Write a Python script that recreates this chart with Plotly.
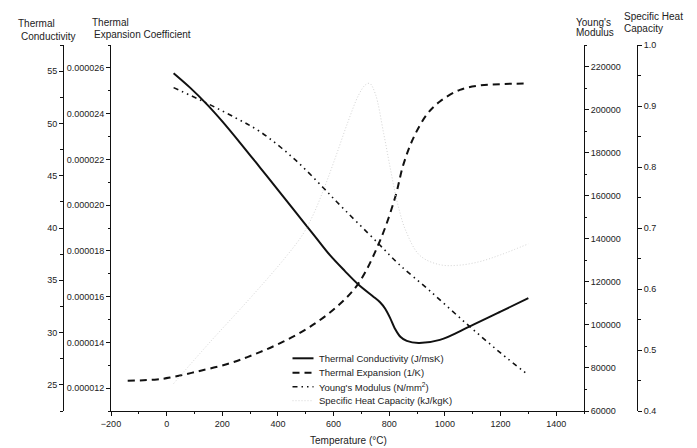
import plotly.graph_objects as go

# ---------------- data ----------------
cond_temp = [25, 85, 144, 200, 264, 335, 407, 470, 533, 587, 640, 689, 740, 767, 785, 803, 820, 840, 863, 905,
             982, 1090, 1200, 1300]
cond_vals = [54.8, 53.4, 51.85, 50.2, 48.15, 45.8, 43.4, 41.3, 39.2, 37.4, 35.9, 34.6, 33.5, 32.9, 32.3, 31.4, 30.4,
             29.6, 29.2, 29.0, 29.3, 30.6, 32.0, 33.3]

exp_temp = [-140, -35, 12, 108, 228, 324, 419, 515, 611, 689, 767, 821, 851, 887, 935, 982, 1054, 1126, 1200, 1300]
exp_vals = [12.32, 12.38, 12.46, 12.72, 13.09, 13.52, 14.03, 14.68, 15.55, 16.57, 18.45, 20.33, 21.78,
            22.94, 23.96, 24.53, 25.04, 25.23, 25.29, 25.32]  # x 1e-6 1/K
exp_vals = [v * 1e-6 for v in exp_vals]

young_temp = [25, 144, 250, 335, 455, 563, 611, 761, 832, 946, 1078, 1200, 1300]
young_vals = [210200, 203000, 196000, 189800, 177500, 163700, 157200, 137800, 128500, 115800, 100500, 87000, 76700]

cp_temp = [25, 150, 300, 420, 490, 530, 570, 610, 650, 690, 715, 730, 750, 780, 805, 830, 860, 910, 980, 1050,
           1126, 1200, 1300]
cp_vals = [0.445, 0.51, 0.585, 0.648, 0.69, 0.725, 0.77, 0.82, 0.872, 0.918, 0.935, 0.937, 0.92, 0.855, 0.795,
           0.74, 0.695, 0.655, 0.64, 0.639, 0.645, 0.656, 0.674]

x_ticks = [-200, 0, 200, 400, 600, 800, 1000, 1200, 1400]

legend_names = ["Thermal Conductivity (J/msK)", "Thermal Expansion (1/K)",
                "Young's Modulus (N/mm<sup>2</sup>)", "Specific Heat Capacity (kJ/kgK)"]

# ---------------- layout geometry ----------------
OFF = 8                      # page body margin in the browser
W, H = 697 - OFF, 448 - OFF
L = 63 - OFF                 # thermal conductivity axis at x=63 in the window
T = 45 - OFF                 # plot top at y=45
B = H - (411 - OFF)          # plot bottom at y=411
R = W - (637 - OFF)          # specific heat axis at x=637
PW = W - L - R
PH = H - T - B


def px(x):
    return (x - OFF - L) / PW


def py(y):
    return (H - B - (y - OFF)) / PH


FONT = "Arial, 'Liberation Sans', Helvetica, sans-serif"
INK = "#111111"
CP_COLOR = "#d4d4d4"

styles = [
    dict(color=INK, width=2, dash="solid"),
    dict(color=INK, width=2, dash="7px,5px"),
    dict(color=INK, width=1.6, dash="5px,4px,1.5px,4px,1.5px,4px"),
    dict(color=CP_COLOR, width=1, dash="1px,2px"),
]

fig = go.Figure()
fig.add_trace(go.Scatter(x=cond_temp, y=cond_vals, mode="lines", line=dict(**styles[0], shape="spline", smoothing=1),
                         name=legend_names[0], yaxis="y", showlegend=False))
fig.add_trace(go.Scatter(x=exp_temp, y=exp_vals, mode="lines", line=dict(**styles[1], shape="spline", smoothing=1),
                         name=legend_names[1], yaxis="y2", showlegend=False))
fig.add_trace(go.Scatter(x=young_temp, y=young_vals, mode="lines", line=dict(**styles[2], shape="spline", smoothing=1),
                         name=legend_names[2], yaxis="y3", showlegend=False))
fig.add_trace(go.Scatter(x=cp_temp, y=cp_vals, mode="lines", line=dict(**styles[3], shape="spline", smoothing=1),
                         name=legend_names[3], yaxis="y4", showlegend=False))

common = dict(showline=True, linecolor=INK, linewidth=1, ticks="outside", ticklen=4, tickwidth=1,
              tickcolor=INK, showgrid=False, zeroline=False,
              tickfont=dict(family=FONT, size=9, color="#222"))

fig.update_layout(
    width=W, height=H,
    margin=dict(l=L, r=R, t=T, b=B, autoexpand=False),
    paper_bgcolor="white", plot_bgcolor="white",
    font=dict(family=FONT, size=10, color="#222"),
    xaxis=dict(domain=[px(111), px(584)], range=[-200, 1500], tickvals=x_ticks,
               minor=dict(dtick=100, tick0=-200, ticks="outside", ticklen=2, tickcolor=INK),
               **common),
    yaxis=dict(anchor="free", position=0, side="left", range=[22.5, 57.5], dtick=5, tick0=25,
               minor=dict(dtick=2.5, tick0=22.5, ticks="outside", ticklen=3, tickcolor=INK),
               **common),
    yaxis2=dict(overlaying="y", anchor="x", side="left", range=[11e-6, 27e-6], dtick=2e-6, tick0=12e-6,
                tickformat=".6f",
                minor=dict(dtick=1e-6, tick0=11e-6, ticks="outside", ticklen=2, tickcolor=INK),
                **common),
    yaxis3=dict(overlaying="y", anchor="x", side="right", range=[60000, 230000], dtick=20000, tick0=60000,
                tickformat="d",
                minor=dict(dtick=10000, tick0=60000, ticks="outside", ticklen=2, tickcolor=INK),
                **common),
    yaxis4=dict(overlaying="y", anchor="free", position=1, side="right", range=[0.4, 1.0], dtick=0.1,
                tick0=0.4, tickformat=".1f",
                minor=dict(dtick=0.05, tick0=0.4, ticks="outside", ticklen=3, tickcolor=INK),
                **common),
)

# axis titles (text at top of each axis), positions in window pixels
titles = [
    ("Thermal", 16, 23.5), ("Conductivity", 19, 36.5),
    ("Thermal", 90, 22.5), ("Expansion Coefficient", 92, 35),
    ("Young's", 574, 22), ("Modulus", 574, 33),
    ("Specific Heat", 622, 17), ("Capacity", 622, 28.5),
]
for txt, x0, y0 in titles:
    fig.add_annotation(text=txt, x=px(x0), y=py(y0), xref="paper", yref="paper",
                       xanchor="left", yanchor="middle", showarrow=False,
                       font=dict(family=FONT, size=10, color="#222"))

fig.add_annotation(text="Temperature (°C)", x=px(348), y=py(440), xref="paper", yref="paper",
                   xanchor="center", yanchor="middle", showarrow=False,
                   font=dict(family=FONT, size=10, color="#222"))

# legend (line samples + labels)
rows_y = [358.3, 372.7, 386.7, 400.7]
for name, st, ry in zip(legend_names, styles, rows_y):
    fig.add_shape(type="line", xref="paper", yref="paper", x0=px(292.5), x1=px(313.5), y0=py(ry), y1=py(ry),
                  line=dict(color=st["color"], width=st["width"], dash=st["dash"]))
    fig.add_annotation(text=name, x=px(316.5), y=py(ry), xref="paper", yref="paper",
                       xanchor="left", yanchor="middle", showarrow=False,
                       font=dict(family=FONT, size=9.5, color="#222"))

fig.write_html("out.html")
